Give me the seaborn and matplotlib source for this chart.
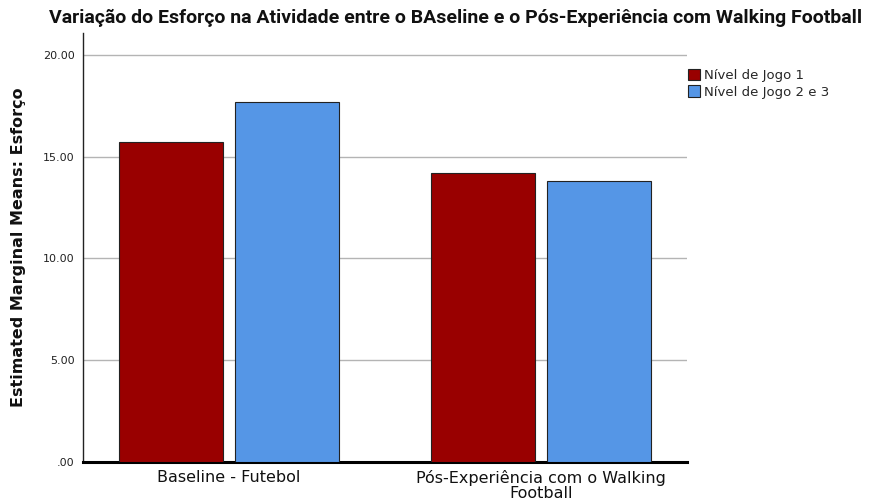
"""Estimated marginal means of effort, by game level."""
import matplotlib
matplotlib.use("Agg")
import matplotlib.pyplot as plt
import pandas as pd
import seaborn as sns
from matplotlib.ticker import FuncFormatter

# Data
momentos = ["Baseline - Futebol", "Pós-Experiência com o Walking\nFootball"]
niveis = ["Nível de Jogo 1", "Nível de Jogo 2 e 3"]
esforco_nivel1 = [15.74, 14.22]
esforco_nivel23 = [17.69, 13.79]
y_ticks = [0, 5, 10, 15, 20]

df = pd.DataFrame({
    "momento": momentos * 2,
    "nivel": [niveis[0]] * 2 + [niveis[1]] * 2,
    "esforco": esforco_nivel1 + esforco_nivel23,
})

sns.set_theme(style="white")
plt.rcParams["font.family"] = ["DejaVu Sans"]

fig = plt.figure(figsize=(8.69, 5.04), dpi=100)
ax = fig.add_axes([83 / 869, 42 / 504, 604 / 869, 429 / 504])

palette = {niveis[0]: "#990000", niveis[1]: "#5596E6"}
sns.barplot(data=df, x="momento", y="esforco", hue="nivel", order=momentos,
            hue_order=niveis, palette=palette, width=0.744, gap=0.105,
            edgecolor="#222222", linewidth=0.8, saturation=1, errorbar=None, ax=ax,
            zorder=3)

ax.set_xlim(-0.468, 1.469)
ax.set_ylim(0, 21.08)
ax.set_yticks(y_ticks)
ax.yaxis.set_major_formatter(FuncFormatter(lambda v, _: ".00" if v == 0 else f"{v:.2f}"))
ax.yaxis.grid(True, color="#b4b4b4", linewidth=1)
ax.set_axisbelow(True)
ax.tick_params(axis="y", labelsize=8, length=0, pad=6, labelcolor="#222222")
ax.tick_params(axis="x", labelsize=11.5, length=0, pad=6, labelcolor="#111111")
for lbl in ax.get_xticklabels():
    lbl.set_linespacing(0.95)

for side in ("top", "right"):
    ax.spines[side].set_visible(False)
ax.spines["left"].set_color("#222222")
ax.spines["left"].set_linewidth(1)
ax.spines["bottom"].set_color("black")
ax.spines["bottom"].set_linewidth(2.2)

ax.set_xlabel("")
ax.set_ylabel("Estimated Marginal Means: Esforço", fontsize=11.5, fontweight="bold",
              labelpad=12, color="#111111")

ax.legend(loc="upper left", bbox_to_anchor=(1.0, 0.92), frameon=False, fontsize=9.5,
          handlelength=0.9, handleheight=1.0, handletextpad=0.3, labelspacing=0.25,
          borderaxespad=0.0, borderpad=0.1)

fig.text(456 / 869, 1 - 18 / 504,
         "Variação do Esforço na Atividade entre o BAseline e o Pós-Experiência com Walking Football",
         ha="center", va="center", fontsize=14, fontweight="bold", color="#111111",
         family=["Roboto", "DejaVu Sans"])

fig.savefig("out.png", dpi=100)
plt.close(fig)
